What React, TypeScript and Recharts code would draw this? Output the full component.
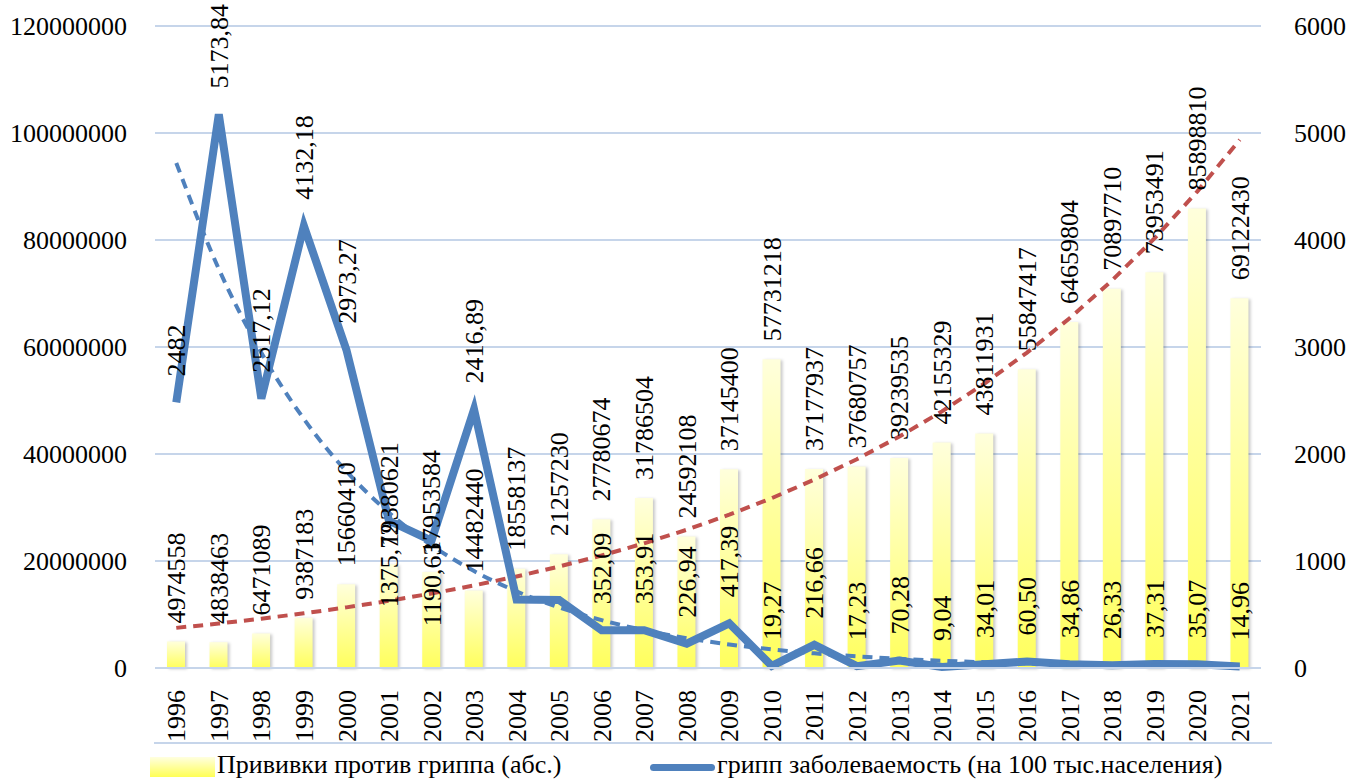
import { ComposedChart, Bar, Line, XAxis, YAxis, CartesianGrid, LabelList } from "recharts";

const years = [
  "1996", "1997", "1998", "1999", "2000", "2001", "2002", "2003", "2004", "2005", "2006", "2007", "2008",
  "2009", "2010", "2011", "2012", "2013", "2014", "2015", "2016", "2017", "2018", "2019", "2020", "2021",
];

// прививки, абс.
const vaccinations = [
  4974558, 4838463, 6471089, 9387183, 15660410, 19380621, 17953584, 14482440, 18558137, 21257230,
  27780674, 31786504, 24592108, 37145400, 57731218, 37177937, 37680757, 39239535, 42155329, 43811931,
  55847417, 64659804, 70897710, 73953491, 85898810, 69122430,
];

// заболеваемость на 100 тыс.
const fluRate = [
  2482, 5173.84, 2517.12, 4132.18, 2973.27, 1375.72, 1190.63, 2416.89, 640, 635, 352.09, 353.91, 226.94,
  417.39, 19.27, 216.66, 17.23, 70.28, 9.04, 34.01, 60.5, 34.86, 26.33, 37.31, 35.07, 14.96,
];

// trend lines
const vaccTrend = [
  7500000, 8310000, 9220000, 10220000, 11330000, 12560000, 13920000, 15430000, 17110000, 18970000,
  21030000, 23310000, 25840000, 28650000, 31760000, 35210000, 39030000, 43270000, 47970000, 53180000,
  58960000, 65360000, 72460000, 80330000, 89050000, 98730000,
];
const fluTrend = [
  4720, 3729, 2946, 2327, 1838, 1452, 1147, 906, 716, 566, 447, 353, 279, 220, 174, 137, 109, 86, 68, 54,
  42, 33, 26, 21, 16, 13,
];

const leftTicks = [0, 20000000, 40000000, 60000000, 80000000, 100000000, 120000000];
const rightTicks = [0, 1000, 2000, 3000, 4000, 5000, 6000];

const hiddenFluLabels = ["2004", "2005"];
const fluLabelsBelow = ["2001", "2002"];

const data = years.map((year, i) => ({
  year,
  vacc: vaccinations[i],
  flu: fluRate[i],
  vaccTrend: vaccTrend[i],
  fluTrend: fluTrend[i],
}));

const FONT = "'Liberation Serif', 'Times New Roman', serif";
const GRID = "#C6D5EA";
const BLUE = "#4F81BD";
const RED = "#C0504D";

const fmtFlu = (v: number) => (Number.isInteger(v) ? String(v) : v.toFixed(2).replace(".", ","));

const YearTick = (props: any) => {
  const { x, y, payload } = props;
  const ty = y + 14;
  return (
    <text
      x={x}
      y={ty}
      dy="0.35em"
      transform={`rotate(-90, ${x}, ${ty})`}
      textAnchor="end"
      fontSize={26}
      fontFamily={FONT}
      fill="#000"
    >
      {payload.value}
    </text>
  );
};

const BarLabel = (props: any) => {
  const { x, y, width, value } = props;
  const cx = x + width / 2;
  const ty = y - 18;
  return (
    <text
      x={cx}
      y={ty}
      dy="0.35em"
      transform={`rotate(-90, ${cx}, ${ty})`}
      textAnchor="start"
      fontSize={26}
      fontFamily={FONT}
      fill="#000"
    >
      {value}
    </text>
  );
};

const FluLabel = (props: any) => {
  const { x, y, value, index } = props;
  const year = years[index];
  if (hiddenFluLabels.includes(year)) return null;
  const below = fluLabelsBelow.includes(year);
  const ty = below ? y + 2 : y - 26;
  return (
    <text
      x={x}
      y={ty}
      dy="0.35em"
      transform={`rotate(-90, ${x}, ${ty})`}
      textAnchor={below ? "end" : "start"}
      fontSize={26}
      fontFamily={FONT}
      fill="#000"
    >
      {fmtFlu(value)}
    </text>
  );
};

export default function App() {
  return (
    <div style={{ position: "absolute", left: 0, top: 0, width: 1346, height: 783, background: "#fff", overflow: "hidden" }}>
      <ComposedChart width={1346} height={783} data={data} margin={{ top: 26, right: 0, bottom: 40, left: 0 }}>
        <defs>
          <linearGradient id="barFill" x1="0" y1="0" x2="0" y2="1">
            <stop offset="0%" stopColor="#FFFFDC" />
            <stop offset="100%" stopColor="#FFFF5C" />
          </linearGradient>
        </defs>
        <CartesianGrid yAxisId="left" vertical={false} stroke={GRID} strokeWidth={2} />
        <XAxis
          dataKey="year"
          height={75}
          axisLine={{ stroke: GRID, strokeWidth: 2 }}
          tickLine={false}
          interval={0}
          tick={<YearTick />}
        />
        <YAxis
          yAxisId="left"
          width={155}
          domain={[0, 120000000]}
          ticks={leftTicks}
          axisLine={false}
          tickLine={false}
          tickMargin={22}
          tick={{ fontSize: 26, fontFamily: FONT, fill: "#000" }}
        />
        <YAxis
          yAxisId="right"
          orientation="right"
          width={85}
          domain={[0, 6000]}
          ticks={rightTicks}
          axisLine={false}
          tickLine={false}
          tickMargin={27}
          tick={{ fontSize: 26, fontFamily: FONT, fill: "#000" }}
        />
        <Bar
          yAxisId="left"
          dataKey="vacc"
          barSize={18}
          fill="url(#barFill)"
          style={{ filter: "drop-shadow(2px 1px 1.5px rgba(0,0,0,0.22))" }}
          isAnimationActive={false}
        >
          <LabelList dataKey="vacc" content={<BarLabel />} />
        </Bar>
        <Line
          yAxisId="left"
          dataKey="vaccTrend"
          stroke={RED}
          strokeWidth={4}
          strokeDasharray="10 7"
          dot={false}
          activeDot={false}
          type="linear"
          isAnimationActive={false}
        />
        <Line
          yAxisId="right"
          dataKey="flu"
          stroke={BLUE}
          strokeWidth={8}
          strokeLinejoin="miter"
          dot={false}
          activeDot={false}
          type="linear"
          isAnimationActive={false}
        >
          <LabelList dataKey="flu" content={<FluLabel />} />
        </Line>
        <Line
          yAxisId="right"
          dataKey="fluTrend"
          stroke={BLUE}
          strokeWidth={4}
          strokeDasharray="10 7"
          dot={false}
          activeDot={false}
          type="monotone"
          isAnimationActive={false}
        />
      </ComposedChart>

      <div style={{ position: "absolute", left: 154, top: 742, width: 1118, height: 2, background: GRID }} />

      <div
        style={{
          position: "absolute",
          left: 150,
          top: 757,
          width: 65,
          height: 20,
          background: "linear-gradient(#FFFFE0, #FFFF55)",
        }}
      />
      <div
        style={{
          position: "absolute",
          left: 217,
          top: 750,
          fontSize: 26,
          lineHeight: "30px",
          fontFamily: FONT,
          color: "#000",
          whiteSpace: "nowrap",
        }}
      >
        Прививки против гриппа (абс.)
      </div>
      <div
        style={{
          position: "absolute",
          left: 650,
          top: 764,
          width: 65,
          height: 7,
          borderRadius: 4,
          background: BLUE,
        }}
      />
      <div
        style={{
          position: "absolute",
          left: 717,
          top: 750,
          fontSize: 26,
          lineHeight: "30px",
          fontFamily: FONT,
          color: "#000",
          whiteSpace: "nowrap",
        }}
      >
        грипп заболеваемость (на 100 тыс.населения)
      </div>
    </div>
  );
}
